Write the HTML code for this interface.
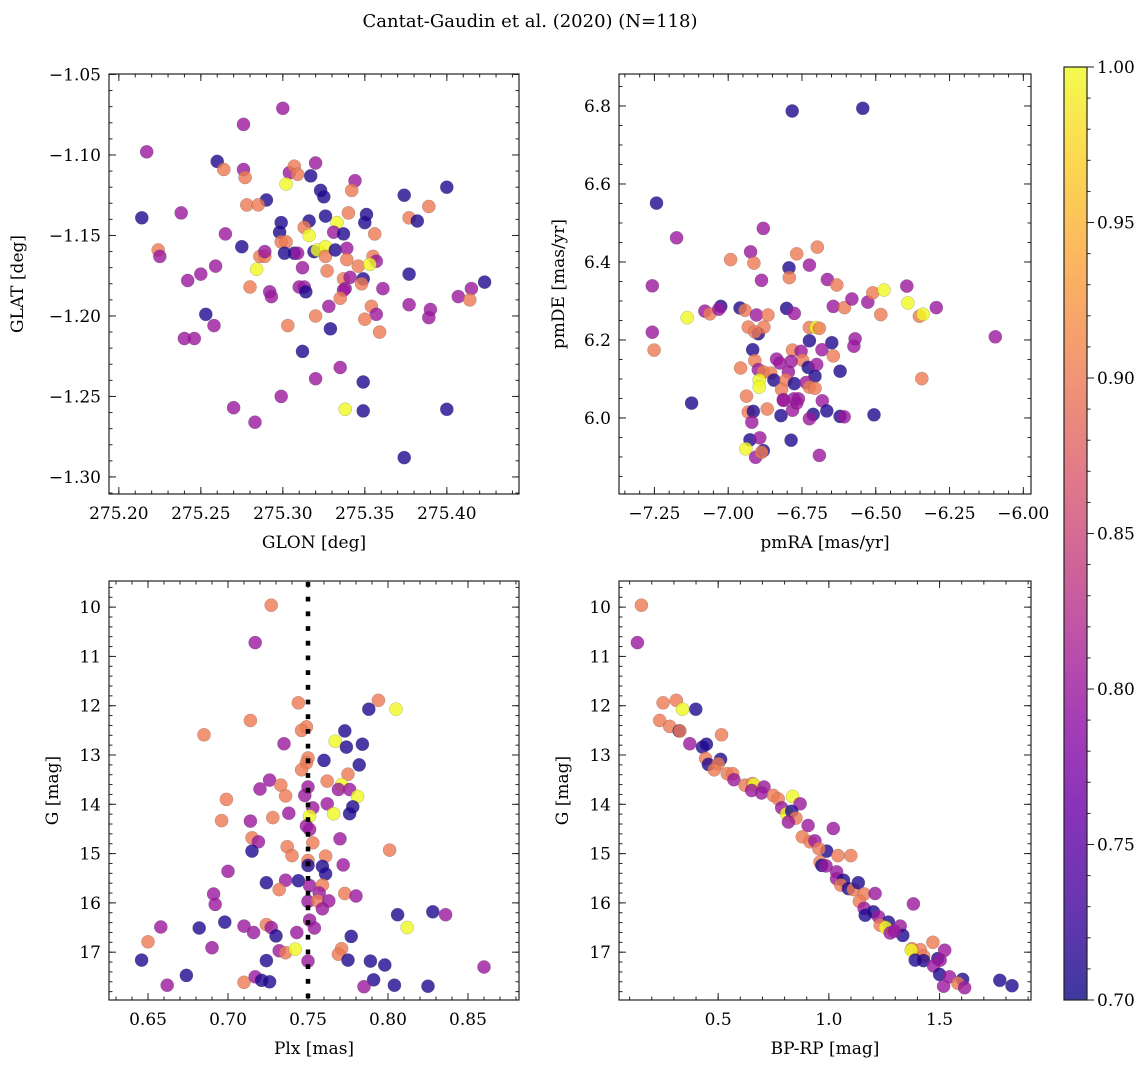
<!DOCTYPE html>
<html><head><meta charset="utf-8"><style>
html,body{margin:0;padding:0;background:#fff;}
svg{display:block;font-family:"DejaVu Serif","Liberation Serif",serif;}
</style></head><body>
<svg id="fig" width="1148" height="1067" viewBox="0 0 1148 1067" xmlns="http://www.w3.org/2000/svg">
<text x="530" y="27" font-size="18" text-anchor="middle">Cantat-Gaudin et al. (2020) (N=118)</text>
</svg>
<script>
// ---------- Panel 1: GLON / GLAT ----------
const p1Glon=[275.300,275.276,275.217,275.260,275.264,275.276,275.277,275.304,275.307,275.309,275.320,275.317,275.302,275.323,275.325,275.344,275.342,275.374,275.400,275.290,275.278,275.285,275.389,275.214,275.238,275.326,275.340,275.351,275.350,275.333,275.377,275.382,275.299,275.316,275.313,275.298,275.316,275.331,275.337,275.356,275.265,275.275,275.299,275.302,275.301,275.307,275.309,275.319,275.321,275.326,275.326,275.332,275.339,275.224,275.225,275.286,275.289,275.289,275.339,275.346,275.355,275.357,275.353,275.284,275.312,275.327,275.259,275.250,275.242,275.377,275.423,275.337,275.341,275.349,275.348,275.280,275.310,275.313,275.314,275.292,275.293,275.338,275.337,275.361,275.335,275.407,275.415,275.414,275.328,275.354,275.357,275.350,275.377,275.390,275.389,275.253,275.258,275.320,275.303,275.329,275.359,275.240,275.246,275.312,275.335,275.320,275.349,275.299,275.270,275.283,275.338,275.349,275.400,275.374];
const p1Glat=[-1.071,-1.081,-1.098,-1.104,-1.109,-1.109,-1.114,-1.111,-1.107,-1.112,-1.105,-1.113,-1.118,-1.122,-1.126,-1.116,-1.122,-1.125,-1.120,-1.128,-1.131,-1.131,-1.132,-1.139,-1.136,-1.138,-1.136,-1.137,-1.142,-1.142,-1.139,-1.141,-1.142,-1.141,-1.145,-1.148,-1.150,-1.148,-1.149,-1.149,-1.149,-1.157,-1.154,-1.154,-1.161,-1.161,-1.161,-1.160,-1.159,-1.157,-1.163,-1.159,-1.158,-1.159,-1.163,-1.163,-1.163,-1.160,-1.165,-1.169,-1.163,-1.166,-1.168,-1.171,-1.170,-1.172,-1.169,-1.174,-1.178,-1.174,-1.179,-1.177,-1.176,-1.177,-1.180,-1.182,-1.182,-1.182,-1.185,-1.185,-1.188,-1.183,-1.184,-1.183,-1.189,-1.188,-1.183,-1.190,-1.194,-1.194,-1.199,-1.202,-1.193,-1.196,-1.201,-1.199,-1.206,-1.200,-1.206,-1.208,-1.210,-1.214,-1.214,-1.222,-1.232,-1.239,-1.241,-1.250,-1.257,-1.266,-1.258,-1.259,-1.258,-1.288];
const p1Prob=[.8,.8,.8,.71,.9,.8,.9,.8,.9,.9,.8,.71,1,.71,.71,.8,.9,.71,.71,.71,.9,.9,.9,.71,.8,.71,.9,.71,.71,1,.9,.71,.71,.71,.9,.71,1,.8,.71,.9,.8,.71,.9,.9,.71,.71,.8,.71,1,1,.9,.71,.8,.9,.8,.9,.9,.8,.9,.9,.9,.8,1,1,.8,.9,.8,.8,.8,.71,.71,.9,.8,.71,.9,.9,.8,.8,.71,.8,.8,.8,.8,.8,.9,.8,.8,.9,.8,.9,.8,.9,.8,.8,.8,.71,.8,.9,.9,.71,.9,.8,.8,.71,.8,.8,.71,.8,.8,.8,1,.71,.71,.71];
const p1XTicks=[275.20,275.25,275.30,275.35,275.40];
const p1YTicks=[-1.30,-1.25,-1.20,-1.15,-1.10,-1.05];

// ---------- Panel 2: pmRA / pmDE ----------
const p2PmRA=[-6.783,-6.544,-7.243,-7.175,-6.881,-7.257,-7.257,-7.251,-7.139,-7.124,-7.079,-7.062,-7.025,-7.032,-6.992,-6.960,-6.943,-6.924,-6.913,-6.887,-6.904,-6.865,-6.932,-6.898,-6.879,-6.910,-6.917,-6.910,-6.958,-6.898,-6.881,-6.856,-6.845,-6.836,-6.825,-6.796,-6.804,-6.819,-6.776,-6.895,-6.895,-6.938,-6.932,-6.915,-6.920,-6.868,-6.813,-6.821,-6.782,-6.777,-6.762,-6.926,-6.893,-6.940,-6.907,-6.881,-6.887,-6.787,-6.691,-6.794,-6.793,-6.802,-6.776,-6.768,-6.698,-6.725,-6.664,-6.632,-6.644,-6.606,-6.581,-6.527,-6.510,-6.472,-6.395,-6.391,-6.483,-6.352,-6.340,-6.295,-6.095,-6.725,-6.702,-6.691,-6.725,-6.649,-6.570,-6.574,-6.682,-6.644,-6.782,-6.753,-6.748,-6.729,-6.700,-6.787,-6.706,-6.736,-6.725,-6.706,-6.621,-6.344,-6.681,-6.666,-6.712,-6.725,-6.621,-6.607,-6.506,-6.768,-6.813];
const p2PmDE=[6.787,6.794,6.551,6.462,6.486,6.339,6.220,6.174,6.257,6.038,6.274,6.267,6.286,6.279,6.406,6.282,6.276,6.426,6.397,6.353,6.264,6.264,6.233,6.216,6.233,6.221,6.175,6.147,6.128,6.124,6.118,6.115,6.097,6.151,6.141,6.118,6.097,6.073,6.088,6.097,6.079,6.056,6.015,6.017,5.989,6.023,6.047,6.006,6.020,6.049,6.049,5.944,5.949,5.921,5.899,5.916,5.912,5.943,5.904,6.385,6.360,6.281,6.268,6.421,6.438,6.392,6.355,6.341,6.286,6.283,6.305,6.297,6.321,6.328,6.338,6.295,6.265,6.261,6.266,6.283,6.208,6.232,6.232,6.230,6.198,6.193,6.203,6.184,6.175,6.159,6.174,6.171,6.148,6.130,6.137,6.145,6.107,6.091,6.079,6.076,6.120,6.101,6.044,6.018,6.009,5.998,6.004,6.003,6.008,6.038,6.045];
const p2Prob=[.71,.71,.71,.8,.8,.8,.8,.9,1,.71,.8,.9,.71,.8,.9,.71,.9,.8,.9,.8,.8,.9,.9,.71,.9,.9,.71,.9,.9,.8,.9,.9,.71,.8,.8,.8,.9,.9,.71,1,1,.9,.9,.71,.8,.9,.8,.71,.8,.8,.8,.71,.8,1,.8,.71,.9,.71,.8,.71,.9,.71,.8,.9,.9,.8,.8,.9,.8,.9,.8,.8,.9,1,.8,1,.9,.9,1,.8,.8,.9,1,.9,.71,.71,.8,.8,.8,.9,.9,.8,.9,.71,.8,.8,.71,.8,.9,.9,.71,.9,.8,.71,.71,.8,.71,.8,.71,.8,.8];
const p2XTicks=[-7.25,-7.00,-6.75,-6.50,-6.25,-6.00];
const p2YTicks=[6.0,6.2,6.4,6.6,6.8];

// ---------- Panel 3: Plx / G ----------
const p3Plx=[0.727,0.717,0.744,0.794,0.805,0.788,0.714,0.685,0.749,0.746,0.773,0.767,0.735,0.774,0.784,0.750,0.749,0.746,0.760,0.782,0.775,0.726,0.733,0.720,0.762,0.771,0.769,0.776,0.736,0.750,0.748,0.781,0.699,0.762,0.753,0.778,0.776,0.766,0.738,0.751,0.728,0.696,0.714,0.749,0.751,0.770,0.715,0.719,0.753,0.737,0.740,0.715,0.801,0.761,0.750,0.759,0.750,0.761,0.772,0.700,0.724,0.736,0.744,0.751,0.759,0.732,0.757,0.773,0.780,0.691,0.692,0.750,0.756,0.759,0.763,0.806,0.828,0.836,0.812,0.751,0.754,0.698,0.682,0.658,0.710,0.716,0.724,0.727,0.730,0.743,0.777,0.650,0.690,0.732,0.736,0.742,0.771,0.769,0.646,0.724,0.750,0.775,0.789,0.798,0.860,0.674,0.662,0.710,0.717,0.721,0.726,0.791,0.804,0.825,0.785];
const p3G=[9.96,10.72,11.94,11.89,12.07,12.07,12.30,12.59,12.43,12.50,12.51,12.72,12.77,12.84,12.78,13.06,13.16,13.30,13.11,13.20,13.39,13.51,13.61,13.69,13.53,13.60,13.70,13.70,13.83,13.65,13.82,13.84,13.90,13.99,14.07,14.05,14.19,14.19,14.18,14.24,14.27,14.33,14.34,14.44,14.51,14.70,14.68,14.76,14.78,14.86,15.04,14.95,14.93,15.05,15.14,15.26,15.24,15.41,15.23,15.36,15.59,15.54,15.55,15.65,15.64,15.73,15.80,15.81,15.86,15.82,16.03,15.97,15.96,16.12,15.96,16.24,16.18,16.24,16.50,16.35,16.51,16.39,16.51,16.49,16.47,16.60,16.44,16.50,16.67,16.60,16.68,16.79,16.91,16.97,17.01,16.94,16.93,17.04,17.16,17.17,17.18,17.16,17.18,17.26,17.30,17.47,17.67,17.61,17.50,17.57,17.60,17.56,17.67,17.69,17.70];
const p3Prob=[.9,.8,.9,.9,1,.71,.9,.9,.9,.9,.71,1,.8,.71,.71,.9,.9,.9,.71,.71,.9,.8,.9,.8,.9,1,.8,.8,.9,.8,.8,1,.9,.8,.8,.71,.71,1,.8,1,.9,.9,.8,.8,.8,.8,.9,.8,.9,.9,.9,.71,.9,.9,.9,.71,.71,.71,.8,.8,.71,.8,.71,.8,.9,.9,.8,.9,.8,.8,.8,.8,.9,.8,.8,.71,.71,.8,1,.8,.8,.71,.71,.8,.8,.8,.9,.8,.71,.8,.71,.9,.8,.8,.9,1,.9,.9,.71,.71,.8,.71,.71,.71,.8,.71,.8,.9,.8,.71,.71,.71,.71,.71,.8];
const p3XTicks=[0.65,0.70,0.75,0.80,0.85];
const p3YTicks=[10,11,12,13,14,15,16,17];
const p3RefPlx=[0.75];

// ---------- Panel 4: BP-RP / G ----------
const p4BpRp=[0.153,0.135,0.251,0.311,0.339,0.399,0.236,0.281,0.324,0.327,0.515,0.372,0.429,0.447,0.443,0.456,0.511,0.500,0.482,0.541,0.565,0.571,0.621,0.655,0.661,0.651,0.707,0.696,0.749,0.771,0.836,0.870,0.787,0.809,0.832,0.851,0.817,0.906,1.020,0.880,0.915,0.937,0.990,0.955,1.041,1.099,0.960,0.968,0.987,1.035,1.035,1.066,1.054,1.088,1.111,1.133,1.159,1.209,1.138,1.159,1.164,1.201,1.224,1.269,1.232,1.256,1.277,1.322,1.334,1.296,1.382,1.470,1.375,1.413,1.372,1.428,1.390,1.428,1.492,1.503,1.523,1.473,1.500,1.545,1.518,1.604,1.583,1.613,1.772,1.827];
const p4G=[9.96,10.72,11.94,11.89,12.07,12.07,12.30,12.42,12.51,12.51,12.59,12.77,12.84,12.78,13.07,13.19,13.09,13.18,13.30,13.38,13.38,13.50,13.61,13.58,13.60,13.72,13.65,13.77,13.82,13.89,13.84,13.99,14.07,14.19,14.14,14.28,14.36,14.43,14.49,14.66,14.76,14.74,14.95,14.90,15.04,15.04,15.17,15.24,15.25,15.37,15.51,15.54,15.64,15.71,15.73,15.59,15.82,15.81,15.97,16.11,16.25,16.18,16.28,16.39,16.45,16.50,16.61,16.47,16.66,16.57,16.02,16.80,16.93,16.95,16.96,17.08,17.16,17.17,17.13,17.16,16.96,17.28,17.45,17.50,17.69,17.55,17.63,17.72,17.57,17.68];
const p4Prob=[.9,.8,.9,.9,1,.71,.9,.9,.71,.9,.9,.8,.71,.71,.9,.71,.71,.9,.9,.9,.9,.8,.9,.9,1,.8,.8,.8,.9,.9,1,.8,.8,1,.71,.9,.8,.8,.8,.9,.9,.8,.71,.9,.9,.9,.9,.71,.8,.8,.8,.71,.9,.71,.9,.71,.9,.8,.9,.8,.71,.71,.8,.71,.9,1,.8,.8,.71,.8,.8,.9,.9,.9,1,.9,.71,.71,.71,.8,.8,.8,.71,.8,.8,.71,.9,.8,.71,.71];
const p4XTicks=[0.5,1.0,1.5];
const p4YTicks=[10,11,12,13,14,15,16,17];

// ---------- Colorbar ----------
const cbTicks=[0.70,0.75,0.80,0.85,0.90,0.95,1.00];
const cbRange=[0.70,1.00];

const NS="http://www.w3.org/2000/svg";
const svg=document.getElementById('fig');
const FS=17;
const plasma=[[13,8,135],[65,4,157],[106,0,168],[143,13,164],[177,42,144],[204,71,120],[225,100,98],[242,132,75],[252,166,54],[252,206,37],[240,249,33]];
function cmap(v){
  let t=(v-cbRange[0])/(cbRange[1]-cbRange[0]);t=Math.max(0,Math.min(1,t));
  const f=t*10,i=Math.min(9,Math.floor(f)),r=f-i,a=plasma[i],b=plasma[i+1];
  return 'rgb('+[0,1,2].map(k=>Math.round(a[k]+(b[k]-a[k])*r)).join(',')+')';
}
function mk(tag,attrs,parent){const e=document.createElementNS(NS,tag);for(const k in attrs)e.setAttribute(k,attrs[k]);(parent||svg).appendChild(e);return e;}
function fmt(v,d){return (v<0?'\u2212':'')+Math.abs(v).toFixed(d);}

function panel(key,box,xd,yd,inv,xTicks,xMinor,xDec,yTicks,yMinor,yDec,xs,ys,ps,xlab,ylab,ylabX){
  const g=mk('g',{});
  
  
  const W=box.x1-box.x0,H=box.y1-box.y0;
  const sx=v=>box.x0+(v-xd[0])/(xd[1]-xd[0])*W;
  const sy=v=>inv?box.y0+(v-yd[0])/(yd[1]-yd[0])*H:box.y1-(v-yd[0])/(yd[1]-yd[0])*H;
  const pg=mk('g',{},g);
  
  
  ps.forEach((p,i)=>{
    const c=mk('circle',{cx:sx(xs[i]).toFixed(1),cy:sy(ys[i]).toFixed(1),r:6.6,fill:cmap(ps[i]),'fill-opacity':0.8,stroke:'#555','stroke-opacity':0.5,'stroke-width':0.4},pg);
    
    
  });
  const fr=mk('rect',{x:box.x0,y:box.y0,width:W,height:H,fill:'none',stroke:'#222','stroke-width':1.2},g);
  
  
  const tk=mk('g',{stroke:'#222','stroke-width':1},g);
  
  
  for(let v=Math.ceil(xd[0]/xMinor-1e-6)*xMinor;v<=xd[1]+1e-9;v+=xMinor){
    const X=sx(v);mk('line',{x1:X,x2:X,y1:box.y1,y2:box.y1-3.5},tk);mk('line',{x1:X,x2:X,y1:box.y0,y2:box.y0+3.5},tk);
  }
  for(let v=Math.ceil(yd[0]/yMinor-1e-6)*yMinor;v<=yd[1]+1e-9;v+=yMinor){
    const Y=sy(v);mk('line',{x1:box.x0,x2:box.x0+3.5,y1:Y,y2:Y},tk);mk('line',{x1:box.x1,x2:box.x1-3.5,y1:Y,y2:Y},tk);
  }
  xTicks.forEach(v=>{
    const X=sx(v);mk('line',{x1:X,x2:X,y1:box.y1,y2:box.y1-7},tk);mk('line',{x1:X,x2:X,y1:box.y0,y2:box.y0+7},tk);
    const t=mk('text',{x:X,y:box.y1+25,'font-size':FS,'text-anchor':'middle'},g);t.textContent=fmt(v,xDec);
    
    
  });
  yTicks.forEach(v=>{
    const Y=sy(v);mk('line',{x1:box.x0,x2:box.x0+7,y1:Y,y2:Y},tk);mk('line',{x1:box.x1,x2:box.x1-7,y1:Y,y2:Y},tk);
    const t=mk('text',{x:box.x0-8,y:Y+6,'font-size':FS,'text-anchor':'end'},g);t.textContent=fmt(v,yDec);
    
    
  });
  const xl=mk('text',{x:(box.x0+box.x1)/2,y:box.y1+54,'font-size':FS,'text-anchor':'middle'},g);xl.textContent=xlab;
  
  
  const yc=(box.y0+box.y1)/2;
  const yl=mk('text',{x:ylabX,y:yc,'font-size':FS,'text-anchor':'middle',transform:'rotate(-90 '+ylabX+' '+yc+')'},g);yl.textContent=ylab;
  
  
  return {sx,sy,g};
}

panel('glon-glat',{x0:109,x1:519,y0:74,y1:494},[275.194,275.444],[-1.3106,-1.0497],false,p1XTicks,0.01,2,p1YTicks,0.01,2,p1Glon,p1Glat,p1Prob,'GLON [deg]','GLAT [deg]',23);
panel('pm',{x0:619,x1:1031,y0:74,y1:494},[-7.370,-5.974],[5.805,6.882],false,p2XTicks,0.05,2,p2YTicks,0.05,1,p2PmRA,p2PmDE,p2Prob,'pmRA [mas/yr]','pmDE [mas/yr]',564);
const p3=panel('plx-g',{x0:109,x1:519,y0:581,y1:1000},[0.6256,0.8819],[9.47,17.97],true,p3XTicks,0.01,2,p3YTicks,0.2,0,p3Plx,p3G,p3Prob,'Plx [mas]','G [mag]',58);
panel('cmd',{x0:619,x1:1031,y0:581,y1:1000},[0.052,1.913],[9.47,17.97],true,p4XTicks,0.1,1,p4YTicks,0.2,0,p4BpRp,p4G,p4Prob,'BP-RP [mag]','G [mag]',568);

p3RefPlx.forEach(v=>{
  const X=p3.sx(v);
  const l=mk('line',{x1:X,x2:X,y1:582,y2:999,stroke:'#000','stroke-width':4.5,'stroke-dasharray':'4.8 9.9'},p3.g);
  
  
});

(function(){
  const cb={x0:1064,x1:1087,y0:67,y1:1000};
  const cg=mk('g',{});
  
  
  const defs=mk('defs',{},cg);
  const lg=mk('linearGradient',{id:'cbg',x1:0,y1:1,x2:0,y2:0},defs);
  for(let i=0;i<=10;i++){mk('stop',{offset:i/10,'stop-color':cmap(cbRange[0]+i/10*(cbRange[1]-cbRange[0]))},lg);}
  const r=mk('rect',{x:cb.x0,y:cb.y0,width:cb.x1-cb.x0,height:cb.y1-cb.y0,fill:'url(#cbg)','fill-opacity':0.8,stroke:'#222','stroke-width':1.2},cg);
  
  
  const sy=v=>cb.y1-(v-cbRange[0])/(cbRange[1]-cbRange[0])*(cb.y1-cb.y0);
  for(let v=cbRange[0];v<=cbRange[1]+1e-9;v+=0.01){const Y=sy(v);mk('line',{x1:cb.x1,x2:cb.x1+3.5,y1:Y,y2:Y,stroke:'#222'},cg);}
  cbTicks.forEach(v=>{
    const Y=sy(v);mk('line',{x1:cb.x1,x2:cb.x1+7,y1:Y,y2:Y,stroke:'#222'},cg);
    const t=mk('text',{x:cb.x1+10,y:Y+6,'font-size':FS},cg);t.textContent=v.toFixed(2);
    
    
  });
})();
</script>
</body></html>
